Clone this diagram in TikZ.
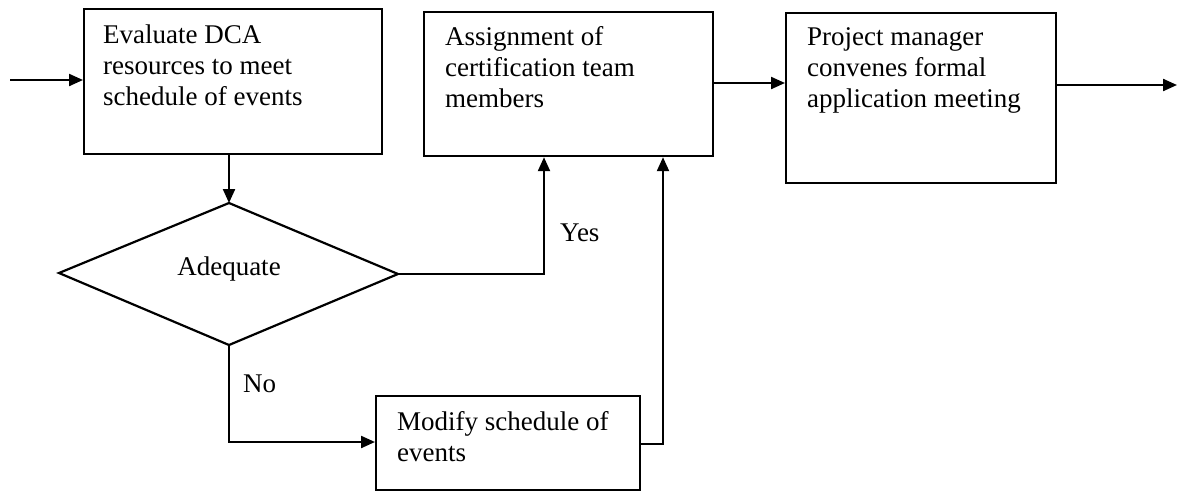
\documentclass[tikz,border=0pt]{standalone}
\usepackage{fontspec}
\setmainfont{Liberation Serif}
\usetikzlibrary{arrows.meta,calc}

\tikzset{
  x=1pt, y=-1pt,
  every node/.style={font=\fontsize{27}{31}\selectfont},
  stepbox/.style={draw, line width=2.2pt, rectangle, inner sep=0pt, anchor=north west},
  boxtext/.style={anchor=north west, align=left, inner sep=0pt},
  decision/.style={draw, line width=2.2pt, line join=miter},
  flow/.style={line width=2.2pt, -{Triangle[length=14pt,width=12pt]}},
  tag/.style={inner sep=0pt, anchor=base west}
}

\begin{document}
\begin{tikzpicture}
  \useasboundingbox (0,0) rectangle (1180,491);

  % process boxes; the text starts a strut height (21.7pt) above its first baseline
  \node[stepbox, minimum width=298pt, minimum height=145pt] (eval) at (83,8) {};
  \node[boxtext] (evalt) at ($(eval.north west)+(20,13.3)$)
    {\strut Evaluate DCA\\resources to meet\\schedule of events};

  \node[stepbox, minimum width=289pt, minimum height=144pt] (assign) at (423,11) {};
  \node[boxtext] (assignt) at ($(assign.north west)+(22,12.3)$)
    {\strut Assignment of\\certification team\\members};

  \node[stepbox, minimum width=270pt, minimum height=170pt] (pm) at (785,12) {};
  \node[boxtext] (pmt) at ($(pm.north west)+(22,11.3)$)
    {\strut Project manager\\convenes formal\\application meeting};

  \node[stepbox, minimum width=264pt, minimum height=94pt] (modify) at (375,395) {};
  \node[boxtext] (modifyt) at ($(modify.north west)+(22,13.3)$)
    {\strut Modify schedule of\\events};

  % decision diamond
  \coordinate (dtop) at (229,203);
  \coordinate (dright) at (398,274);
  \coordinate (dbot) at (229,345);
  \coordinate (dleft) at (59,273);
  \draw[decision] (dtop) -- (dright) -- (dbot) -- (dleft) -- cycle;
  \node (adequate) at (229,269) {Adequate};

  % connectors
  \coordinate (start) at (10,80);
  \coordinate (finish) at (1177,85);
  \draw[flow] (start) -- (eval.west |- start);
  \draw[flow] (eval.south -| dtop) -- (dtop);
  \draw[flow] (dright) -| (544,0 |- assign.south);
  \draw[flow] (dbot) |- (modify.west |- 0,442);
  \draw[flow] (modify.east |- 0,444) -| (663,0 |- assign.south);
  \draw[flow] (assign.east |- 0,83) -- (pm.west |- 0,83);
  \draw[flow] (pm.east |- 0,85) -- (finish);

  % branch labels
  \node[tag] (yes) at (560,241) {Yes};
  \node[tag] (no) at (243,392) {No};
\end{tikzpicture}
\end{document}
